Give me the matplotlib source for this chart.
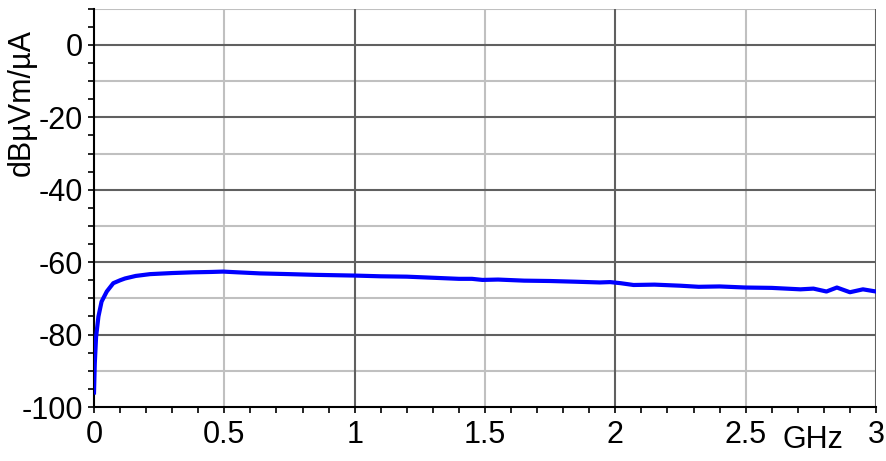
import matplotlib
matplotlib.use("Agg")
import matplotlib.pyplot as plt
from matplotlib.ticker import MultipleLocator

plt.rcParams['font.family'] = ['Liberation Sans', 'DejaVu Sans']
plt.rcParams['axes.unicode_minus'] = False

freq_ghz = [0, 0.003, 0.008, 0.017, 0.029, 0.049, 0.074, 0.1, 0.119, 0.16, 0.215,
            0.3, 0.38, 0.45, 0.495, 0.55, 0.637, 0.75, 0.85, 1.0, 1.1, 1.2, 1.3,
            1.4, 1.45, 1.49, 1.55, 1.65, 1.75, 1.85, 1.94, 1.98, 2.02, 2.07, 2.15,
            2.25, 2.32, 2.4, 2.5, 2.6, 2.71, 2.76, 2.81, 2.85, 2.9, 2.95, 3.0]
level_db = [-96, -88, -80.6, -75, -70.9, -68.1, -65.8, -65.0, -64.5, -63.8, -63.3,
            -63.0, -62.8, -62.7, -62.6, -62.8, -63.1, -63.3, -63.5, -63.7, -63.9, -64.0, -64.3,
            -64.6, -64.6, -64.9, -64.8, -65.1, -65.2, -65.4, -65.6, -65.5, -65.8, -66.3, -66.2,
            -66.5, -66.8, -66.7, -67.0, -67.1, -67.5, -67.3, -68.1, -67.0, -68.3, -67.5, -68.1]

x_ticks = [0, 0.5, 1, 1.5, 2, 2.5, 3]
x_labels = ['0', '0.5', '1', '1.5', '2', '2.5', '3']
y_ticks = [0, -20, -40, -60, -80, -100]

fig = plt.figure(figsize=(8.86, 4.61), dpi=100)
ax = fig.add_axes([0.1061, 0.1171, 0.8826, 0.864])

# grid: dark every 1 GHz / 20 dB, light in between
for xv in [0.5, 1.5, 2.5]:
    ax.axvline(xv, color='#c0c0c0', lw=1.5, zorder=0)
for xv in [1, 2, 3]:
    ax.axvline(xv, color='#606060', lw=1.5, zorder=1)
for yv in [10, -10, -30, -50, -70, -90]:
    ax.axhline(yv, color='#c0c0c0', lw=1.5, zorder=0)
for yv in [0, -20, -40, -60, -80]:
    ax.axhline(yv, color='#606060', lw=1.5, zorder=1)

ax.plot(freq_ghz, level_db, color='#0000ff', lw=3, zorder=3)

ax.set_xlim(0, 3)
ax.set_ylim(-100, 10)
ax.set_xticks(x_ticks)
ax.set_xticklabels(x_labels)
ax.set_yticks(y_ticks)
ax.xaxis.set_minor_locator(MultipleLocator(0.1))
ax.yaxis.set_minor_locator(MultipleLocator(5))
ax.tick_params(axis='both', which='both', length=4, width=1.2, color='black',
               labelsize=22)
ax.tick_params(axis='x', pad=5)
ax.tick_params(axis='y', pad=4)

ax.spines['top'].set_visible(False)
ax.spines['right'].set_visible(False)
ax.spines['left'].set_linewidth(1.5)
ax.spines['bottom'].set_linewidth(1.5)

fig.text(0.025, 0.778, 'dB\u00b5Vm/\u00b5A', rotation=90, ha='center', va='center',
         fontsize=22)
fig.text(0.9176, 0.046, 'GHz', ha='center', va='center', fontsize=22)

fig.savefig('out.png', dpi=100)
